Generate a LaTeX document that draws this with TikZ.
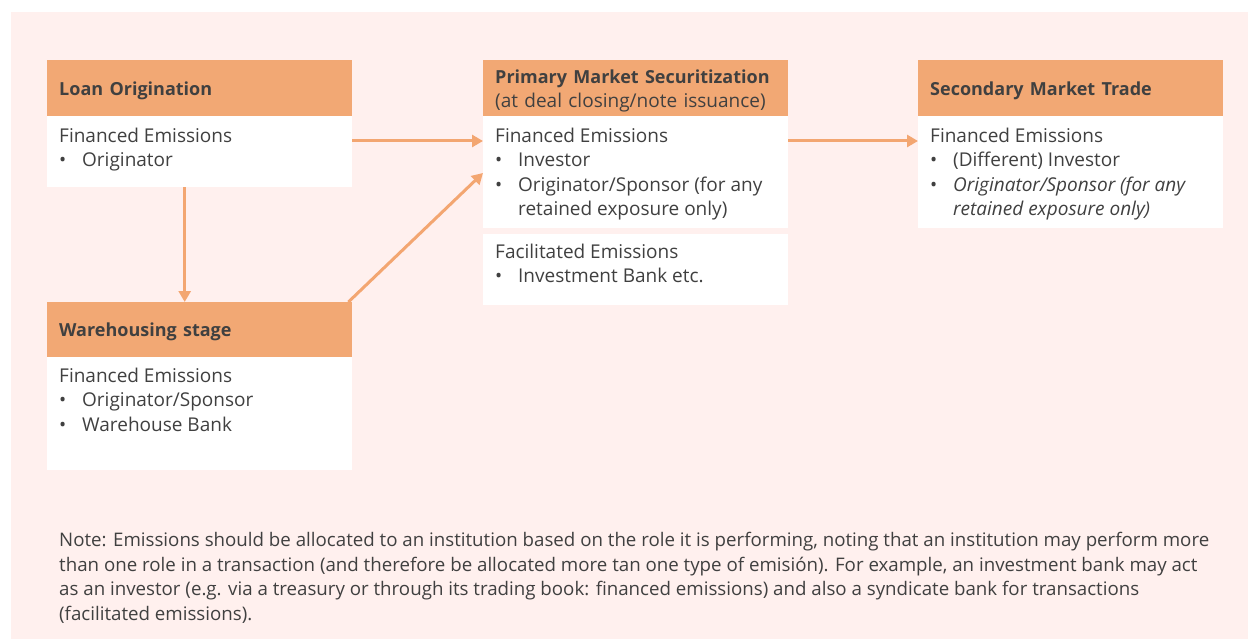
\documentclass[tikz,border=0pt]{standalone}
\usepackage{fontspec}
\setmainfont{Open Sans}
\usetikzlibrary{arrows.meta}
\definecolor{bgpink}{HTML}{FFF0EE}
\definecolor{hdrorange}{HTML}{F2A874}
\definecolor{arroworange}{HTML}{F3A671}
\definecolor{txt}{HTML}{404040}
\newcommand{\bitem}[1]{\par\hangindent=23pt\hangafter=1\noindent\makebox[23pt][l]{\textbullet}#1}
\newcommand{\boxtext}[3]{\begin{minipage}[t][#1][t]{281pt}\raggedright\hyphenpenalty=10000\exhyphenpenalty=10000\rule{0pt}{#2}#3\end{minipage}}
\begin{document}
\begin{tikzpicture}[x=1pt,y=-1pt,
  hdr/.style={fill=hdrorange, anchor=north west, minimum width=305pt, minimum height=56pt,
    inner xsep=12pt, inner ysep=0pt, text width=281pt, align=left,
    font=\fontsize{19}{24}\selectfont, text=txt},
  hdrone/.style={hdr, text depth=0pt},
  body/.style={fill=white, anchor=north west, inner xsep=12pt, inner ysep=0pt, text=txt,
    font=\fontsize{19}{24.5}\selectfont},
  link/.style={draw=arroworange, line width=3pt, -{Triangle[length=11pt,width=12pt]}}]
\useasboundingbox (0,0) rectangle (1248,639);
\fill[bgpink] (11,12) rectangle (1248,639);

% Loan origination
\node[hdrone] (loanH) at (47,60) {{\fontsize{18}{24}\selectfont\bfseries Loan Origination}};
\node[body] (loanB) at (47,116) {\boxtext{71pt}{26pt}{Financed Emissions\bitem{Originator}}};

% Warehousing
\node[hdrone, minimum height=55pt] (wareH) at (47,302) {{\fontsize{18}{24}\selectfont\bfseries Warehousing stage}};
\node[body] (wareB) at (47,357) {\boxtext{113pt}{25pt}{Financed Emissions\bitem{Originator/Sponsor}\bitem{Warehouse Bank}}};

% Primary market
\node[hdr] (primH) at (483,60) {\rule{0pt}{20pt}{\fontsize{18}{24}\selectfont\bfseries Primary Market Securitization}\\(at deal closing/note issuance)};
\node[body] (primB) at (483,116) {\boxtext{112pt}{26pt}{Financed Emissions\bitem{Investor}\bitem{Originator/Sponsor (for any retained exposure only)}}};
\node[body] (facB) at (483,234) {\boxtext{71pt}{24pt}{Facilitated Emissions\bitem{Investment Bank etc.}}};

% Secondary market
\node[hdrone] (secH) at (918,60) {{\fontsize{18}{24}\selectfont\bfseries Secondary Market Trade}};
\node[body] (secB) at (918,116) {\boxtext{112pt}{26pt}{Financed Emissions\bitem{(Different) Investor}\bitem{\textit{Originator/Sponsor (for any retained exposure only)}}}};

% Arrows
\draw[link] ([yshift=-25pt]loanB.north east) -- ([yshift=-25pt]primB.north west);
\draw[link] ([xshift=-15pt]loanB.south) -- ([xshift=-15pt]wareH.north);
\draw[link] ([xshift=-4pt]wareH.north east) -- ([yshift=-57pt]primB.north west);
\draw[link] ([yshift=-25pt]primB.north east) -- ([yshift=-25pt]secB.north west);

% Note
\node[anchor=base west, inner sep=0pt, text=txt, font=\fontsize{18.7}{24.7}\selectfont] (note) at (59,546.5)
 {\begin{minipage}[t]{1185pt}Note: Emissions should be allocated to an institution based on the role it is performing, noting that an institution may perform more\\
 than one role in a transaction (and therefore be allocated more tan one type of emisión). For example, an investment bank may act\\
 as an investor (e.g. via a treasury or through its trading book: financed emissions) and also a syndicate bank for transactions\\
 (facilitated emissions).\end{minipage}};
\end{tikzpicture}
\end{document}
